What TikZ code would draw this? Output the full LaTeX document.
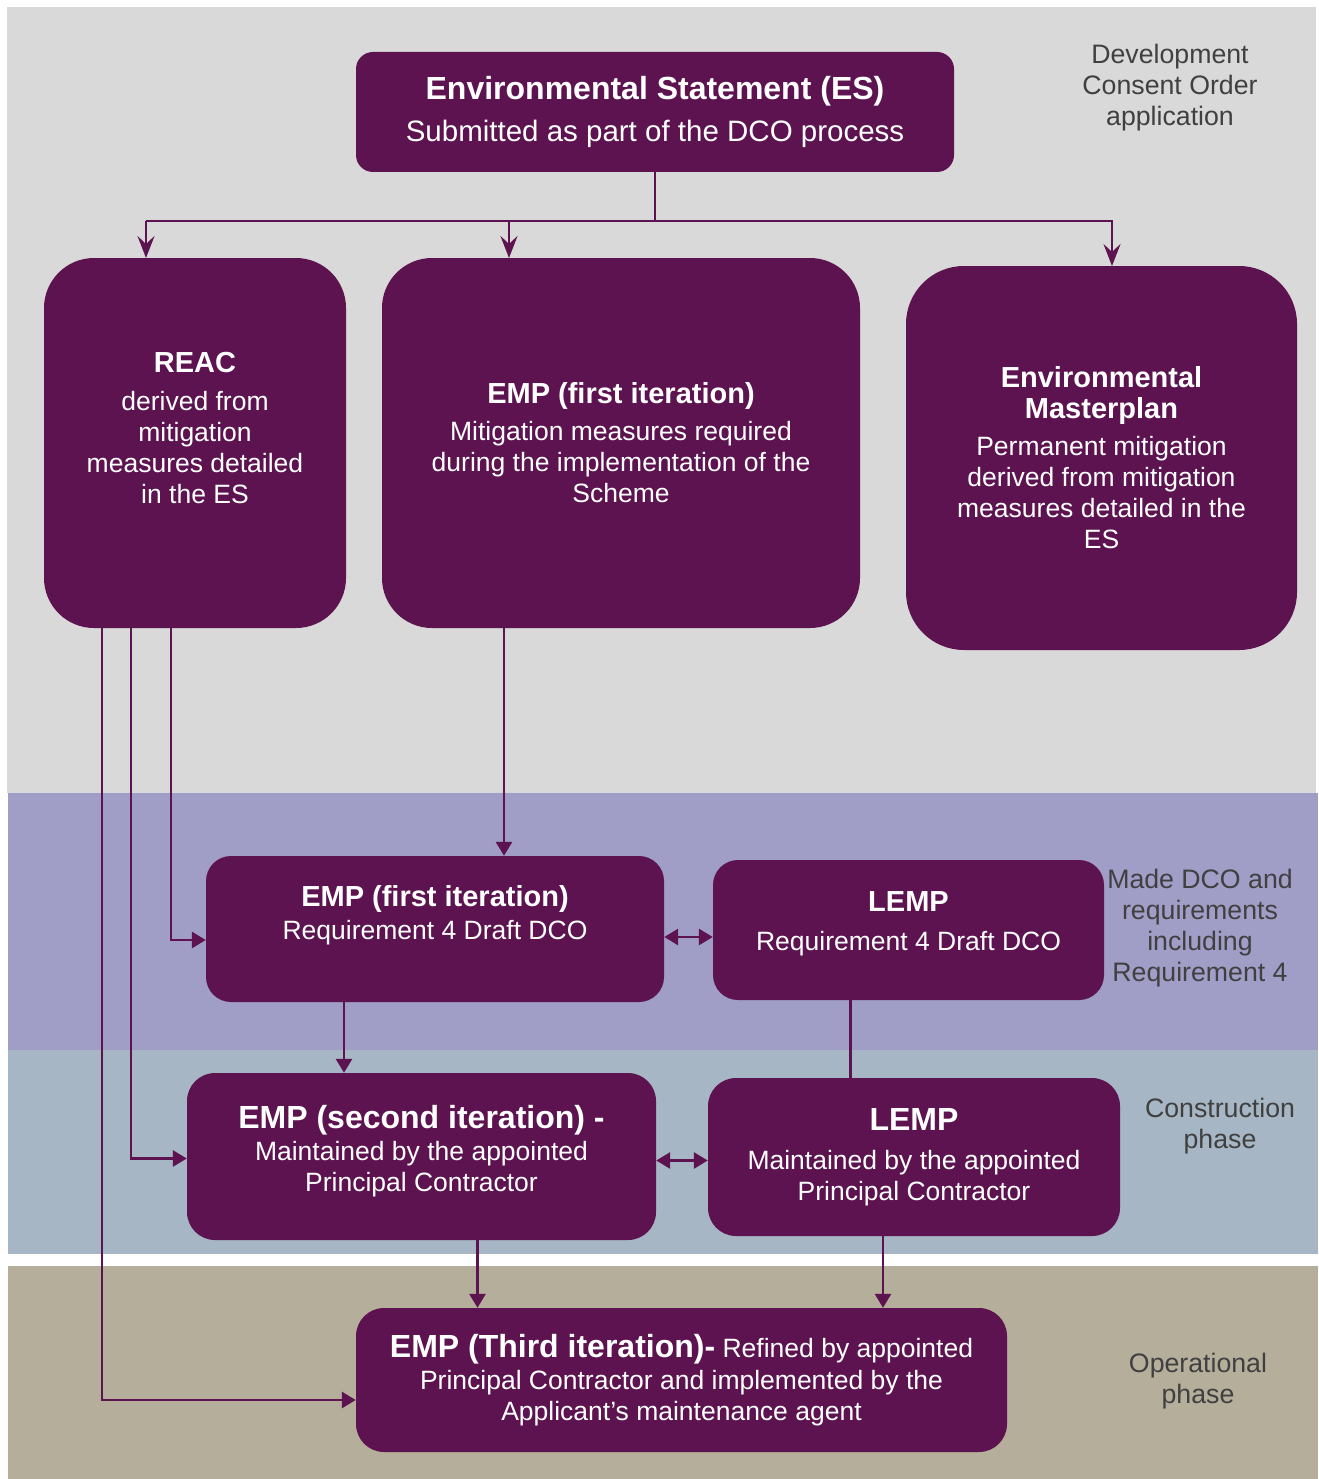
\documentclass[tikz,border=0pt]{standalone}
\usepackage{fontspec}
\setmainfont{Liberation Sans}
\usetikzlibrary{arrows.meta}
\definecolor{boxpurple}{HTML}{5C1350}
\definecolor{bandgrey}{HTML}{D9D9D9}
\definecolor{bandlilac}{HTML}{A09DC7}
\definecolor{bandblue}{HTML}{A6B6C4}
\definecolor{bandtan}{HTML}{B4AE9B}
\definecolor{sidetext}{HTML}{404040}
\newcommand{\hd}[1]{{\fontsize{29}{33}\selectfont\bfseries #1}}
\newcommand{\hdbig}[1]{{\fontsize{32}{36}\selectfont\bfseries #1}}
\tikzset{
  box/.style={fill=boxpurple, text=white, align=center, rounded corners=#1,
    font=\fontsize{26.5}{31}\selectfont, inner sep=0pt},
  side/.style={text=sidetext, align=center, font=\fontsize{26.7}{31}\selectfont},
  link/.style={draw=boxpurple, line width=2.8pt},
  arr/.style={link, -{Triangle[width=16pt,length=14pt]}},
  tarr/.style={link, -{Stealth[width=17pt,length=22pt,inset=8pt]}},
  dbl/.style={link, {Triangle[width=16pt,length=14pt]}-{Triangle[width=16pt,length=14pt]}}
}
\begin{document}
\begin{tikzpicture}[x=1pt,y=-1pt]
\useasboundingbox (0,0) rectangle (1318,1479);
% bands
\fill[white] (0,0) rectangle (1318,1479);
\fill[bandgrey] (7,7) rectangle (1316,793);
\fill[bandlilac] (8,793) rectangle (1318,1050);
\fill[bandblue] (8,1050) rectangle (1318,1254);
\fill[bandtan] (8,1266) rectangle (1318,1479);

% boxes
\node[box=17pt, minimum width=598pt, minimum height=120pt] (es) at (655,112)
  {\hdbig{Environmental Statement (ES)}\\[11pt] {\fontsize{29.5}{33}\selectfont Submitted as part of the DCO process}};
\node[box=50pt, minimum width=302pt, minimum height=370pt] (reac) at (195,443)
  {\hd{REAC}\\[7pt] derived from\\ mitigation\\ measures detailed\\ in the ES\\[-1pt]};
\node[box=50pt, minimum width=478pt, minimum height=370pt] (emp1) at (621,443)
  {\hd{EMP (first iteration)}\\[6pt] Mitigation measures required\\ during the implementation of the\\ Scheme};
\node[box=58pt, minimum width=391pt, minimum height=384pt] (master) at (1101.5,458)
  {\hd{Environmental}\\ \hd{Masterplan}\\[6pt] Permanent mitigation\\ derived from mitigation\\ measures detailed in the\\ ES};
\node[box=25pt, minimum width=458pt, minimum height=146pt] (emp1r) at (435,929)
  {\hd{EMP (first iteration)}\\[2pt] Requirement 4 Draft DCO\\[3pt]};
\node[box=25pt, minimum width=391pt, minimum height=140pt] (lemp1) at (908.5,930)
  {\hd{LEMP}\\[8pt] Requirement 4 Draft DCO\\[-13pt]};
\node[box=28pt, minimum width=469pt, minimum height=167pt] (emp2) at (421.5,1156.5)
  {\hdbig{EMP (second iteration) -}\\[1pt] Maintained by the appointed\\ Principal Contractor\\[-15pt]};
\node[box=28pt, minimum width=412pt, minimum height=158pt] (lemp2) at (914,1157)
  {\hdbig{LEMP}\\[8pt] Maintained by the appointed\\ Principal Contractor};
\node[box=28pt, minimum width=651pt, minimum height=144pt] (emp3) at (681.5,1380)
  {\hdbig{EMP (Third iteration)-} Refined by appointed\\[1pt] Principal Contractor and implemented by the\\ Applicant’s maintenance agent};

% phase labels
\node[side] (dco) at (1170,88) {Development\\ Consent Order\\ application};
\node[side] (made) at (1200,928) {Made DCO and\\ requirements\\ including\\ Requirement 4};
\node[side] (constr) at (1220,1126) {Construction\\ phase};
\node[side] (oper) at (1198,1381) {Operational\\ phase};

% connectors
\coordinate (split) at (655,221);
\draw[link] (es) -- (split);
\draw[link] (146,221) -- (1113,221);
\draw[tarr] (146,221) -- (146,258);
\draw[tarr] (509,221) -- (509,258);
\draw[tarr] (1112,221) -- (1112,266);
\draw[arr] ([xshift=-24pt]reac.south) |- ([yshift=-11pt]emp1r.west);
\draw[arr] ([xshift=-64pt]reac.south) |- ([yshift=-2pt]emp2.west);
\draw[arr] ([xshift=-93pt]reac.south) |- ([yshift=-20pt]emp3.west);
\draw[arr] ([xshift=-117pt]emp1.south) -- ([xshift=-117pt]emp1.south |- emp1r.north);
\draw[dbl] ([yshift=-8pt]emp1r.east) -- ([yshift=-8pt]emp1r.east -| lemp1.west);
\draw[arr] ([xshift=-91pt]emp1r.south) -- ([xshift=-91pt]emp1r.south |- emp2.north);
\draw[link] ([xshift=-58pt]lemp1.south) -- ([xshift=-58pt]lemp1.south |- lemp2.north);
\draw[dbl] ([yshift=-4pt]emp2.east) -- ([yshift=-4pt]emp2.east -| lemp2.west);
\draw[arr] ([xshift=56pt]emp2.south) -- ([xshift=56pt]emp2.south |- emp3.north);
\draw[arr] ([xshift=-31pt]lemp2.south) -- ([xshift=-31pt]lemp2.south |- emp3.north);
\end{tikzpicture}
\end{document}
